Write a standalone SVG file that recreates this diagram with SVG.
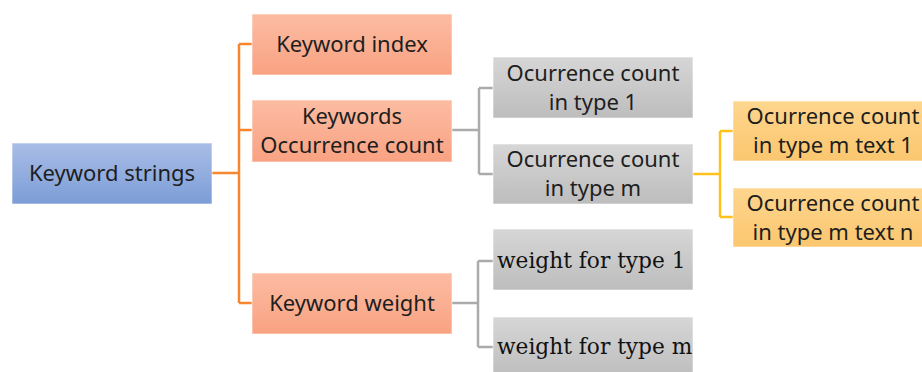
<svg xmlns="http://www.w3.org/2000/svg" width="922" height="372" viewBox="0 0 922 372">
<defs>
<linearGradient id="gBlue" x1="0" y1="0" x2="0" y2="1"><stop offset="0" stop-color="#a9bde6"/><stop offset="1" stop-color="#7c9dd7"/></linearGradient>
<linearGradient id="gOrange" x1="0" y1="0" x2="0" y2="1"><stop offset="0" stop-color="#fcbca2"/><stop offset="1" stop-color="#f9a282"/></linearGradient>
<linearGradient id="gGray" x1="0" y1="0" x2="0" y2="1"><stop offset="0" stop-color="#d6d6d6"/><stop offset="1" stop-color="#bdbdbd"/></linearGradient>
<linearGradient id="gYellow" x1="0" y1="0" x2="0" y2="1"><stop offset="0" stop-color="#fed68e"/><stop offset="1" stop-color="#fbc66f"/></linearGradient>
</defs>
<style>
.box{stroke:#ffffff;stroke-opacity:0.6;stroke-width:1}
.t{font-family:"Noto Sans","Liberation Sans",Arial,sans-serif;font-size:22px;fill:#1e1e1e;text-anchor:middle}
.s{font-family:"DejaVu Serif","Liberation Serif",serif;font-size:21.7px;fill:#111}
.co{fill:none;stroke:#f7862e;stroke-width:2.5}
.cg{fill:none;stroke:#ababab;stroke-width:2.5}
.cy{fill:none;stroke:#ffc21a;stroke-width:2.5}
</style>
<rect width="922" height="372" fill="#ffffff"/>
<g id="connectors">
<path class="co" d="M212,173 H239 M239,44 V303 M239,44 H252 M239,130 H252 M239,303 H252"/>
<path class="cg" d="M452,130 H479 M479,88 V174 M479,88 H493 M479,174 H493"/>
<path class="cy" d="M693,174 H720 M720,131 V217 M720,131 H733 M720,217 H733"/>
<path class="cg" d="M452,303 H478 M478,261 V347 M478,261 H493 M478,347 H493"/>
</g>
<g id="keyword-strings">
<rect class="box" x="12" y="143" width="200" height="61" fill="url(#gBlue)"/>
<text class="t" x="112" y="181">Keyword strings</text>
</g>
<g id="keyword-index">
<rect class="box" x="252" y="14" width="200" height="61" fill="url(#gOrange)"/>
<text class="t" x="352" y="52">Keyword index</text>
</g>
<g id="keywords-occurrence-count">
<rect class="box" x="252" y="100" width="200" height="62" fill="url(#gOrange)"/>
<text class="t" x="352" y="124">Keywords</text>
<text class="t" x="352" y="153">Occurrence count</text>
</g>
<g id="keyword-weight">
<rect class="box" x="252" y="273" width="200" height="61" fill="url(#gOrange)"/>
<text class="t" x="352" y="311">Keyword weight</text>
</g>
<g id="count-type-1">
<rect class="box" x="493" y="57" width="200" height="61" fill="url(#gGray)"/>
<text class="t" x="593" y="81">Ocurrence count</text>
<text class="t" x="593" y="110">in type 1</text>
</g>
<g id="count-type-m">
<rect class="box" x="493" y="144" width="200" height="60" fill="url(#gGray)"/>
<text class="t" x="593" y="167">Ocurrence count</text>
<text class="t" x="593" y="196">in type m</text>
</g>
<g id="count-type-m-text-1">
<rect class="box" x="733" y="101" width="200" height="60" fill="url(#gYellow)"/>
<text class="t" x="833" y="124">Ocurrence count</text>
<text class="t" x="833" y="153">in type m text 1</text>
</g>
<g id="count-type-m-text-n">
<rect class="box" x="733" y="188" width="200" height="59" fill="url(#gYellow)"/>
<text class="t" x="833" y="211">Ocurrence count</text>
<text class="t" x="833" y="240">in type m text n</text>
</g>
<g id="weight-type-1">
<rect class="box" x="493" y="229" width="200" height="61" fill="url(#gGray)"/>
<text class="s" x="497" y="268">weight for type 1</text>
</g>
<g id="weight-type-m">
<rect class="box" x="493" y="317" width="200" height="61" fill="url(#gGray)"/>
<text class="s" x="497" y="354">weight for type m</text>
</g>
</svg>
